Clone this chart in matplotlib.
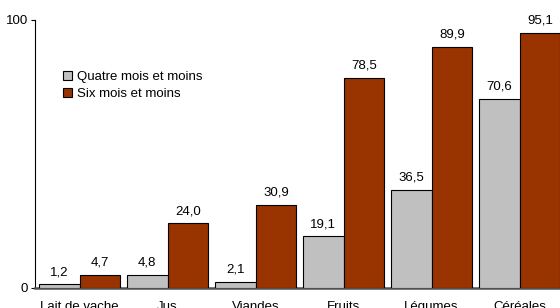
import matplotlib
matplotlib.use("Agg")
import matplotlib.pyplot as plt
import numpy as np

plt.rcParams['font.family'] = ['Liberation Sans', 'DejaVu Sans']

categories = ["Lait de vache", "Jus", "Viandes", "Fruits", "Légumes", "Céréales"]
quatre = [1.2, 4.8, 2.1, 19.1, 36.5, 70.6]
six = [4.7, 24.0, 30.9, 78.5, 89.9, 95.1]
series_names = ["Quatre mois et moins", "Six mois et moins"]
colors = ["#C0C0C0", "#993300"]

W, H = 560, 308
fig = plt.figure(figsize=(W / 100, H / 100), dpi=100)
left_px, right_px, top_px, bot_px = 35, 563.6, 20, 287.5
ax = fig.add_axes([left_px / W, (H - bot_px) / H, (right_px - left_px) / W, (bot_px - top_px) / H])

x = np.arange(len(categories))
bw = 0.46
b1 = ax.bar(x - bw / 2, quatre, bw, color=colors[0], edgecolor="black", linewidth=0.8, label=series_names[0], zorder=3)
b2 = ax.bar(x + bw / 2, six, bw, color=colors[1], edgecolor="black", linewidth=0.8, label=series_names[1], zorder=3)

for bars, vals in ((b1, quatre), (b2, six)):
    for rect, v in zip(bars, vals):
        ax.annotate(f"{v:.1f}".replace(".", ","), (rect.get_x() + rect.get_width() / 2, v),
                    xytext=(0, 4.5), textcoords="offset points", ha="center", va="bottom", fontsize=9.5)

ax.set_xlim(-0.507, 5.5)
ax.set_ylim(0, 100)
ax.set_yticks([0, 100])
ax.set_yticklabels(["0", "100"], fontsize=9.5)
ax.set_xticks(x)
ax.set_xticklabels(categories, fontsize=9.5)
ax.tick_params(axis="x", length=0, pad=10)
ax.tick_params(axis="y", length=3, width=0.8, pad=2)
for s in ("top", "right"):
    ax.spines[s].set_visible(False)
ax.spines["left"].set_linewidth(0.8)
ax.spines["bottom"].set_linewidth(1.8)
ax.spines["bottom"].set_color("#505050")

leg = ax.legend(loc="upper left", bbox_to_anchor=(0.04, 0.835), frameon=False, fontsize=9.5,
                handlelength=0.7, handleheight=0.7, handletextpad=0.4, labelspacing=0.4, borderpad=0)

fig.savefig("out.png", dpi=100)
